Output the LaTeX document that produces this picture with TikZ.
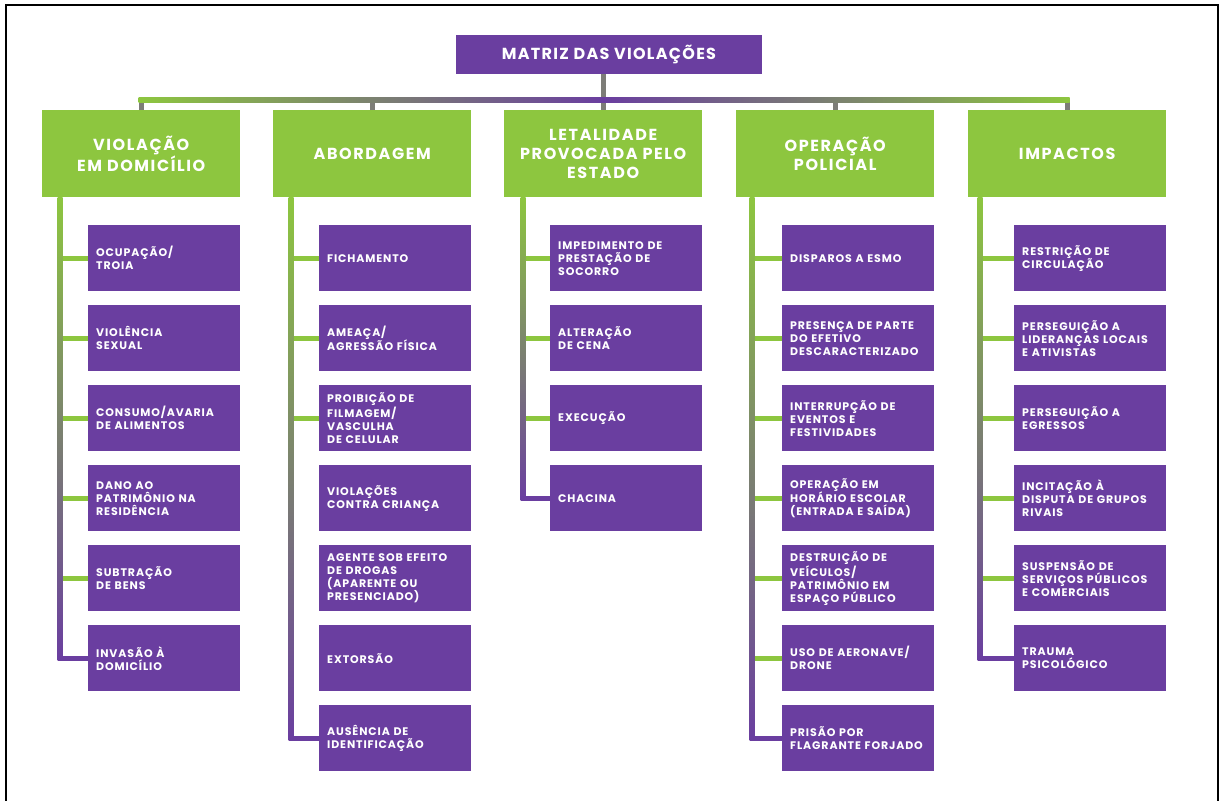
\documentclass[tikz,border=0pt]{standalone}
\usepackage{fontspec}
\setmainfont{Poppins}
\newfontfamily\leaffont{Poppins}[LetterSpace=8]
\newfontfamily\catfont{Poppins}[LetterSpace=10]
\newfontfamily\ttlfont{Poppins}[LetterSpace=8]
\usetikzlibrary{calc}
\definecolor{vpurple}{RGB}{106,62,160}
\definecolor{vgreen}{RGB}{141,198,63}
\definecolor{vgrey}{RGB}{125,125,120}
\tikzset{
  cat/.style={fill=vgreen, text=white, anchor=north west, minimum width=198pt, minimum height=87pt, inner sep=0pt, align=center, font=\catfont\bfseries\fontsize{16}{19}\selectfont},
  leaf/.style={fill=vpurple, text=white, anchor=north west, minimum height=66pt, inner xsep=8pt, inner ysep=0pt, text width=136pt, align=left, font=\leaffont\bfseries\fontsize{11}{13}\selectfont},
  ttl/.style={fill=vpurple, text=white, minimum width=306pt, minimum height=39pt, inner sep=0pt, font=\ttlfont\bfseries\fontsize{16}{16}\selectfont},
  gstub/.style={draw=vgrey, line width=5pt},
  lstub/.style={draw=vgreen, line width=5pt},
  pstub/.style={draw=vpurple, line width=5pt},
}
\begin{document}
\begin{tikzpicture}[x=1pt,y=-1pt]
\useasboundingbox (0,0) rectangle (1220,800);
\fill[white] (0,0) rectangle (1220,800);
\draw[line width=2pt] (6,812) -- (6,5) -- (1218,5) -- (1218,812);

% title and categories
\node[ttl] (t) at (609,54.5) {MATRIZ DAS VIOLAÇÕES};
\node[cat] (k1) at (42,110) {VIOLAÇÃO\\EM DOMICÍLIO};
\node[cat] (k2) at (273,110) {ABORDAGEM};
\node[cat] (k3) at (504,110) {LETALIDADE\\PROVOCADA PELO\\ESTADO};
\node[cat] (k4) at (736,110) {OPERAÇÃO\\POLICIAL};
\node[cat] (k5) at (968,110) {IMPACTOS};

% column 1
\node[leaf] (a1) at (88,225) {OCUPAÇÃO/\\TROIA};
\node[leaf] (a2) at (88,305) {VIOLÊNCIA\\SEXUAL};
\node[leaf] (a3) at (88,385) {CONSUMO/AVARIA\\DE ALIMENTOS};
\node[leaf] (a4) at (88,465) {DANO AO\\PATRIMÔNIO NA\\RESIDÊNCIA};
\node[leaf] (a5) at (88,545) {SUBTRAÇÃO\\DE BENS};
\node[leaf] (a6) at (88,625) {INVASÃO À\\DOMICÍLIO};
% column 2
\node[leaf] (b1) at (319,225) {FICHAMENTO};
\node[leaf] (b2) at (319,305) {AMEAÇA/\\AGRESSÃO FÍSICA};
\node[leaf] (b3) at (319,385) {PROIBIÇÃO DE\\FILMAGEM/\\VASCULHA\\DE CELULAR};
\node[leaf] (b4) at (319,465) {VIOLAÇÕES\\CONTRA CRIANÇA};
\node[leaf] (b5) at (319,545) {AGENTE SOB EFEITO\\DE DROGAS\\(APARENTE OU\\PRESENCIADO)};
\node[leaf] (b6) at (319,625) {EXTORSÃO};
\node[leaf] (b7) at (319,705) {AUSÊNCIA DE\\IDENTIFICAÇÃO};
% column 3
\node[leaf] (c1) at (550,225) {IMPEDIMENTO DE\\PRESTAÇÃO DE\\SOCORRO};
\node[leaf] (c2) at (550,305) {ALTERAÇÃO\\DE CENA};
\node[leaf] (c3) at (550,385) {EXECUÇÃO};
\node[leaf] (c4) at (550,465) {CHACINA};
% column 4
\node[leaf] (d1) at (782,225) {DISPAROS A ESMO};
\node[leaf] (d2) at (782,305) {PRESENÇA DE PARTE\\DO EFETIVO\\DESCARACTERIZADO};
\node[leaf] (d3) at (782,385) {INTERRUPÇÃO DE\\EVENTOS E\\FESTIVIDADES};
\node[leaf] (d4) at (782,465) {OPERAÇÃO EM\\HORÁRIO ESCOLAR\\(ENTRADA E SAÍDA)};
\node[leaf] (d5) at (782,545) {DESTRUIÇÃO DE\\VEÍCULOS/\\PATRIMÔNIO EM\\ESPAÇO PÚBLICO};
\node[leaf] (d6) at (782,625) {USO DE AERONAVE/\\DRONE};
\node[leaf] (d7) at (782,705) {PRISÃO POR\\FLAGRANTE FORJADO};
% column 5
\node[leaf] (e1) at (1014,225) {RESTRIÇÃO DE\\CIRCULAÇÃO};
\node[leaf] (e2) at (1014,305) {PERSEGUIÇÃO A\\LIDERANÇAS LOCAIS\\E ATIVISTAS};
\node[leaf] (e3) at (1014,385) {PERSEGUIÇÃO A\\EGRESSOS};
\node[leaf] (e4) at (1014,465) {INCITAÇÃO À\\DISPUTA DE GRUPOS\\RIVAIS};
\node[leaf] (e5) at (1014,545) {SUSPENSÃO DE\\SERVIÇOS PÚBLICOS\\E COMERCIAIS};
\node[leaf] (e6) at (1014,625) {TRAUMA\\PSICOLÓGICO};

% bus
\coordinate (busy) at (0,100);
\foreach \k in {k1,k2,k4,k5} {\draw[gstub] (\k.north) -- (\k.north |- busy);}
\draw[gstub] (t.south -| k3.north) -- (k3.north);
\shade[left color=vgreen, middle color=vgrey, right color=vpurple] ($(k1.north |- busy)+(-2.5,-2.5)$) rectangle ($(k3.north |- busy)+(0,2.5)$);
\shade[left color=vpurple, middle color=vgrey, right color=vgreen] ($(k3.north |- busy)+(0,-2.5)$) rectangle ($(k5.north |- busy)+(2.5,2.5)$);

% spines
\coordinate (s1) at ($(k1.south west)+(18,0)$);
\coordinate (s2) at ($(k2.south west)+(18,0)$);
\coordinate (s3) at ($(k3.south west)+(19,0)$);
\coordinate (s4) at ($(k4.south west)+(16,0)$);
\coordinate (s5) at ($(k5.south west)+(12,0)$);
\foreach \n in {a1,a2,a3,a4,a5} {\draw[lstub] (s1 |- \n.west) -- (\n.west);}
\foreach \n in {b1,b2,b3} {\draw[lstub] (s2 |- \n.west) -- (\n.west);}
\foreach \n in {c1,c2,c3} {\draw[lstub] (s3 |- \n.west) -- (\n.west);}
\foreach \n in {d1,d2,d3,d4,d5,d6} {\draw[lstub] (s4 |- \n.west) -- (\n.west);}
\foreach \n in {e1,e2,e3,e4,e5} {\draw[lstub] (s5 |- \n.west) -- (\n.west);}
\foreach \s/\n in {s1/a6,s2/b7,s3/c4,s4/d7,s5/e6} {
  \path (\s |- \n.west) coordinate (end);
  \shade[top color=vgreen, middle color=vgrey, bottom color=vpurple] ($(\s)+(-2.5,0)$) rectangle ($(end)+(2.5,2.5)$);
  \draw[pstub] ($(end)+(-2.5,0)$) -- (\n.west);
}
\end{tikzpicture}
\end{document}
